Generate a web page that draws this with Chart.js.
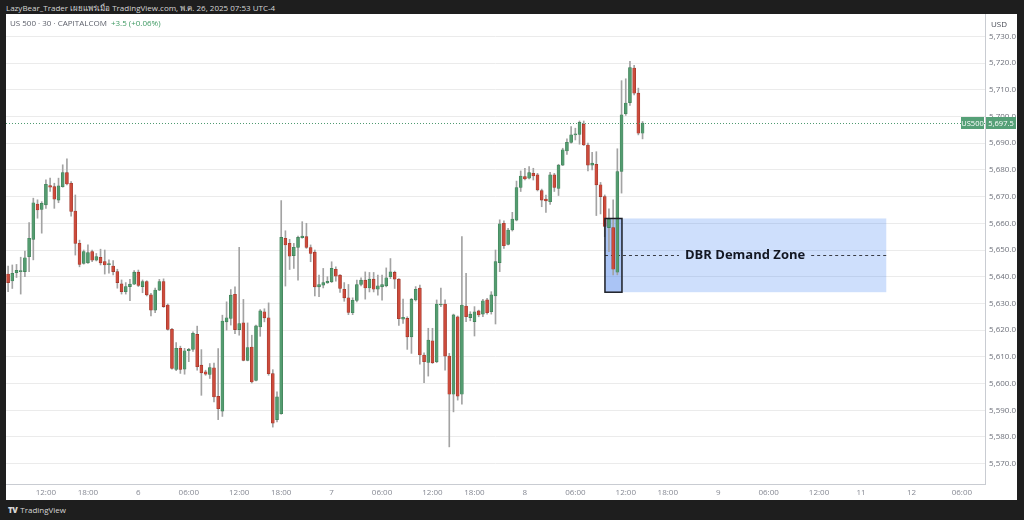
<!DOCTYPE html>
<html>
<head>
<meta charset="utf-8">
<script src="https://cdn.jsdelivr.net/npm/chart.js@4.4.1/dist/chart.umd.min.js"></script>
<style>
  html,body{margin:0;padding:0;}
  body{width:1024px;height:520px;overflow:hidden;background:#1e1e1e;position:relative;font-family:'Open Sans','Noto Sans',sans-serif;}
  #hdr{position:absolute;left:6px;top:2px;color:#d6d6d6;font-size:8px;line-height:12px;white-space:nowrap;}
  #panel{position:absolute;left:6px;top:14px;width:1011px;height:486px;background:#fff;}
  #c{position:absolute;left:0;top:0;}
  #legend{position:absolute;left:10px;top:17px;font-size:8px;line-height:12px;color:#5d606b;white-space:nowrap;}
  #legend .chg{color:#3f9a63;margin-left:4px;}
  #usd{position:absolute;left:991px;top:18px;font-size:8px;line-height:12px;color:#4a4d57;}
  #foot{position:absolute;left:8px;top:504px;font-size:8px;line-height:12px;color:#d6d6d6;white-space:nowrap;}
  #foot b{font-weight:800;letter-spacing:-0.5px;margin-right:3px;}
</style>
</head>
<body>
<div id="hdr">LazyBear_Trader เผยแพร่เมื่อ TradingView.com, พ.ค. 26, 2025 07:53 UTC-4</div>
<div id="panel"><canvas id="c" width="1011" height="486"></canvas></div>
<div id="legend">US 500 · 30 · CAPITALCOM<span class="chg">+3.5 (+0.06%)</span></div>
<div id="usd">USD</div>
<div id="foot"><b>TV</b>TradingView</div>
<script>
// ---- data (30-minute candles) ----
const openVals = [5641.0,5638.4,5641.5,5641.9,5641.9,5647.5,5654.0,5667.2,5665.2,5666.9,
5674.1,5673.7,5668.7,5673.7,5679.0,5675.0,5664.6,5652.5,5645.0,5645.2,
5649.4,5646.2,5647.3,5645.7,5644.5,5644.0,5641.9,5637.3,5634.4,5636.3,
5637.2,5641.7,5636.3,5638.2,5633.2,5627.5,5635.0,5638.2,5629.4,5620.3,
5605.3,5613.2,5605.4,5612.3,5612.8,5618.4,5606.9,5604.4,5603.4,5605.9,
5595.2,5589.7,5623.1,5624.4,5633.4,5620.2,5622.7,5608.7,5613.7,5601.2,
5621.2,5626.9,5624.6,5603.7,5586.5,5588.7,5654.4,5652.5,5647.9,5651.0,
5654.6,5655.0,5650.9,5649.2,5636.2,5636.8,5637.7,5638.1,5642.8,5640.6,
5635.3,5632.1,5626.5,5631.1,5637.1,5638.7,5635.8,5639.1,5635.3,5636.2,
5636.6,5640.0,5641.6,5639.1,5624.1,5624.4,5617.5,5631.3,5635.7,5610.7,
5607.9,5616.0,5608.2,5629.4,5629.8,5610.3,5596.0,5625.0,5596.0,5629.0,
5624.7,5623.2,5627.2,5626.0,5631.3,5626.9,5632.8,5645.3,5660.0,5652.1,
5657.5,5661.2,5673.4,5677.5,5676.9,5678.7,5678.1,5672.2,5669.1,5668.1,
5678.1,5673.1,5681.8,5687.1,5690.3,5693.1,5693.3,5697.1,5689.3,5681.8,
5682.1,5674.4,5670.0,5658.4,5658.4,5641.7,5679.4,5701.0,5705.2,5718.1,
5708.7,5693.7];
const highVals = [5644.0,5644.4,5644.6,5647.3,5649.6,5660.3,5669.4,5668.8,5668.1,5676.3,
5676.9,5675.0,5676.9,5681.9,5684.1,5675.6,5670.6,5653.7,5650.0,5651.9,
5650.0,5648.7,5650.3,5650.0,5646.3,5646.0,5642.8,5638.8,5637.8,5639.0,
5642.3,5642.5,5638.8,5638.5,5633.8,5635.7,5639.0,5639.2,5629.8,5620.7,
5615.3,5614.0,5613.2,5613.2,5619.4,5621.5,5612.7,5605.0,5607.5,5607.7,
5613.1,5625.6,5630.6,5635.2,5636.2,5651.0,5631.5,5622.7,5618.1,5621.9,
5627.7,5628.0,5630.2,5605.2,5596.9,5668.5,5657.2,5654.0,5652.5,5655.2,
5660.6,5660.0,5651.9,5650.0,5640.6,5643.1,5640.0,5645.6,5643.7,5640.8,
5637.8,5637.1,5632.1,5638.7,5639.6,5641.8,5641.6,5641.6,5640.6,5640.6,
5643.3,5646.8,5642.1,5639.3,5631.6,5625.0,5631.9,5636.3,5636.9,5611.5,
5620.7,5620.7,5631.3,5635.7,5631.3,5611.3,5626.0,5625.3,5655.0,5641.3,
5626.9,5628.8,5627.5,5631.5,5631.9,5634.4,5650.0,5661.3,5660.9,5658.1,
5664.1,5675.8,5679.6,5680.6,5681.2,5680.6,5678.7,5672.8,5670.6,5679.1,
5678.7,5682.1,5688.1,5691.6,5696.2,5695.6,5698.3,5698.3,5690.0,5686.6,
5686.8,5675.3,5670.6,5665.4,5668.8,5687.9,5713.4,5714.1,5720.6,5719.1,
5710.6,5698.1];
const lowVals = [5634.4,5635.6,5639.7,5633.5,5640.0,5641.9,5646.3,5661.9,5656.3,5665.6,
5671.9,5665.6,5667.7,5673.5,5674.4,5662.7,5648.1,5643.7,5644.7,5645.0,
5645.6,5645.9,5644.4,5641.0,5641.3,5640.7,5635.7,5633.5,5633.5,5631.0,
5637.0,5636.3,5634.0,5632.8,5625.3,5626.5,5634.8,5628.5,5620.0,5605.4,
5604.8,5603.8,5603.5,5608.2,5612.0,5605.0,5595.6,5603.1,5601.9,5593.1,
5586.5,5587.7,5620.0,5621.9,5618.7,5618.1,5608.5,5608.5,5600.2,5601.0,
5617.7,5623.1,5603.1,5583.7,5585.6,5588.5,5636.5,5642.7,5643.1,5638.7,
5654.4,5650.6,5645.6,5632.8,5632.5,5635.8,5637.5,5637.8,5638.3,5634.1,
5630.8,5625.8,5625.8,5630.6,5636.6,5631.6,5634.3,5634.3,5633.1,5631.2,
5636.2,5639.3,5635.6,5621.8,5622.5,5612.8,5611.3,5630.9,5607.3,5600.3,
5602.8,5607.5,5607.8,5628.8,5605.0,5576.3,5589.4,5593.8,5592.3,5623.2,
5623.5,5617.8,5625.0,5625.0,5626.0,5626.0,5622.3,5641.9,5650.6,5651.9,
5657.1,5660.9,5671.9,5676.2,5676.6,5676.2,5672.1,5666.2,5664.1,5667.1,
5671.9,5670.4,5681.6,5685.8,5690.0,5691.2,5689.6,5689.1,5679.6,5680.0,
5662.9,5663.5,5655.0,5649.4,5640.7,5640.7,5671.3,5700.4,5704.1,5708.1,
5693.1,5691.6];
const closeVals = [5637.8,5641.3,5642.4,5642.3,5647.1,5654.4,5667.7,5665.0,5667.5,5674.6,
5673.5,5669.0,5674.0,5679.0,5674.7,5664.4,5652.5,5644.6,5649.4,5649.0,
5646.2,5647.5,5645.2,5644.4,5644.7,5641.9,5637.8,5634.4,5636.3,5637.2,
5641.7,5636.7,5638.2,5633.2,5627.5,5635.0,5638.2,5628.8,5620.3,5605.7,
5613.2,5605.3,5612.3,5612.8,5618.8,5606.3,5604.0,5603.5,5606.0,5595.0,
5590.6,5623.4,5624.6,5633.1,5620.2,5622.5,5608.7,5613.5,5600.6,5621.6,
5627.2,5624.6,5603.7,5585.2,5595.0,5654.7,5651.9,5647.7,5651.0,5654.7,
5655.2,5651.0,5648.7,5636.2,5637.1,5637.8,5638.3,5643.1,5640.2,5635.6,
5632.1,5626.6,5631.2,5637.1,5638.7,5635.8,5639.1,5635.3,5636.6,5637.1,
5639.6,5641.8,5639.1,5624.3,5624.8,5617.5,5631.5,5635.3,5610.7,5608.2,
5616.3,5607.8,5629.8,5629.8,5610.3,5596.0,5625.7,5595.3,5629.4,5625.0,
5626.0,5626.9,5625.7,5631.0,5626.5,5633.2,5645.7,5659.8,5651.6,5657.5,
5661.6,5673.4,5677.7,5676.6,5679.0,5677.7,5672.5,5668.7,5668.4,5678.1,
5673.4,5681.8,5687.5,5690.3,5693.1,5693.5,5697.8,5689.3,5681.8,5682.5,
5674.4,5670.0,5658.8,5661.6,5642.8,5679.4,5700.6,5705.0,5718.3,5708.7,
5693.7,5697.5];

// time axis: slot count and labelled slots
const slotCount = 233;
const timeTickIdx  = [9,19,31,43,55,65,77,89,101,111,123,135,147,157,169,181,193,203,215,227];
const timeTickText = ['12:00','18:00','6','06:00','12:00','18:00','7','06:00','12:00','18:00','8','06:00','12:00','18:00','9','06:00','12:00','11','12','06:00'];
const priceTicks = [5570,5580,5590,5600,5610,5620,5630,5640,5650,5660,5670,5680,5690,5700,5710,5720,5730];
const lastPrice = 5697.5;
const symbolName = 'US500';

// demand zone (slot positions and prices)
const zoneStart = 142.05, boxEnd = 146.1, zoneEnd = 209.0;
const zoneTop = 5661.8, zoneBottom = 5634.2, zoneMid = 5648.2;
const zoneText = 'DBR Demand Zone';
const zoneTextAt = 175.4;

// ---- build ----
const slotLabels = Array.from({length: slotCount}, () => '');
timeTickIdx.forEach((k, j) => { slotLabels[k] = timeTickText[j]; });
const bodies = openVals.map((o, i) => [o, closeVals[i]]);
const wicks = lowVals.map((l, i) => [l, highVals[i]]);
const isUp = i => closeVals[i] >= openVals[i];

const GREEN = '#549c70', GREEN_B = '#3d7d55';
const RED = '#cc4b3c', RED_B = '#9b3428';
const fmt = v => v.toLocaleString('en-US', {minimumFractionDigits: 1, maximumFractionDigits: 1});

const zonePlugin = {
  id: 'zone',
  beforeDatasetsDraw(chart) {
    const {ctx, scales: {x, y}} = chart;
    const x0 = x.getPixelForValue(zoneStart), x1 = x.getPixelForValue(zoneEnd), xb = x.getPixelForValue(boxEnd);
    const yt = y.getPixelForValue(zoneTop), yb = y.getPixelForValue(zoneBottom), ym = Math.round(y.getPixelForValue(zoneMid)) + 0.5;
    ctx.save();
    ctx.fillStyle = 'rgba(66,133,244,0.26)';
    ctx.fillRect(x0, yt, x1 - x0, yb - yt);
    ctx.fillStyle = 'rgba(40,100,220,0.22)';
    ctx.fillRect(x0, yt, xb - x0, yb - yt);
    ctx.font = 'bold 13px "Open Sans", "DejaVu Sans", sans-serif';
    const tx = x.getPixelForValue(zoneTextAt);
    const tw = ctx.measureText(zoneText).width;
    ctx.strokeStyle = '#3a3d45';
    ctx.lineWidth = 1;
    ctx.setLineDash([3, 3]);
    ctx.beginPath();
    ctx.moveTo(x0, ym); ctx.lineTo(tx - tw / 2 - 6, ym);
    ctx.moveTo(tx + tw / 2 + 6, ym); ctx.lineTo(x1, ym);
    ctx.stroke();
    ctx.setLineDash([]);
    ctx.fillStyle = '#131722';
    ctx.textAlign = 'center';
    ctx.textBaseline = 'middle';
    ctx.fillText(zoneText, tx, ym);
    ctx.restore();
  },
  afterDatasetsDraw(chart) {
    const {ctx, scales: {x, y}} = chart;
    const x0 = x.getPixelForValue(zoneStart), xb = x.getPixelForValue(boxEnd);
    const yt = y.getPixelForValue(zoneTop), yb = y.getPixelForValue(zoneBottom);
    ctx.save();
    ctx.strokeStyle = '#1c1f26';
    ctx.lineWidth = 1.5;
    ctx.strokeRect(x0, yt, xb - x0, yb - yt);
    ctx.restore();
  }
};

const lastPricePlugin = {
  id: 'lastPrice',
  afterDatasetsDraw(chart) {
    const {ctx, chartArea: a, scales: {y}} = chart;
    const yp = Math.round(y.getPixelForValue(lastPrice)) + 0.5;
    ctx.save();
    ctx.strokeStyle = '#4f9a70';
    ctx.lineWidth = 1;
    ctx.setLineDash([1, 2]);
    ctx.beginPath(); ctx.moveTo(a.left, yp); ctx.lineTo(a.right, yp); ctx.stroke();
    ctx.setLineDash([]);
    ctx.restore();
  },
  afterDraw(chart) {
    const {ctx, chartArea: a, scales: {y}} = chart;
    const yp = Math.round(y.getPixelForValue(lastPrice));
    ctx.save();
    ctx.fillStyle = '#55a077';
    ctx.fillRect(a.right - 24, yp - 6, 23, 12);
    ctx.fillRect(a.right + 1, yp - 6, 30, 12);
    ctx.fillStyle = '#ffffff';
    ctx.font = '7.5px "Open Sans", sans-serif';
    ctx.textBaseline = 'middle';
    ctx.textAlign = 'center';
    ctx.fillText(symbolName, a.right - 12.5, yp + 0.5);
    ctx.fillText(fmt(lastPrice), a.right + 16, yp + 0.5);
    ctx.restore();
  }
};

new Chart(document.getElementById('c'), {
  type: 'bar',
  data: {
    labels: slotLabels,
    datasets: [
      {
        label: 'body', data: bodies, order: 0, grouped: false,
        barThickness: 3, minBarLength: 1,
        backgroundColor: c => isUp(c.dataIndex) ? GREEN : RED,
        borderColor: c => isUp(c.dataIndex) ? GREEN_B : RED_B,
        borderWidth: 0.6, borderSkipped: false
      },
      {
        label: 'wick', data: wicks, order: 1, grouped: false,
        barThickness: 1, backgroundColor: '#a3a3a3', borderWidth: 0
      }
    ]
  },
  options: {
    responsive: false, animation: false,
    layout: {padding: 0},
    plugins: {legend: {display: false}, tooltip: {enabled: false}},
    scales: {
      x: {
        type: 'category', offset: true,
        grid: {display: false, drawTicks: false},
        border: {display: true, color: '#c9ccd2', width: 1},
        ticks: {autoSkip: false, maxRotation: 0, minRotation: 0, padding: 4, color: '#868993',
                font: {size: 8, family: '"Open Sans", sans-serif'},
                callback: (v, i) => slotLabels[i]},
        afterFit: s => { s.height = 16; s.paddingLeft = 0; s.paddingRight = 0; }
      },
      y: {
        position: 'right', min: 5562.4, max: 5738.35,
        grid: {color: '#ebebeb', drawTicks: false, lineWidth: 1},
        border: {display: true, color: '#c9ccd2', width: 1},
        ticks: {padding: 4, color: '#6f727c', font: {size: 8, family: '"Open Sans", sans-serif'},
                callback: v => fmt(v)},
        afterBuildTicks: s => { s.ticks = priceTicks.map(v => ({value: v})); },
        afterFit: s => { s.width = 32; s.paddingTop = 0; s.paddingBottom = 0; }
      }
    }
  },
  plugins: [zonePlugin, lastPricePlugin]
});
</script>
</body>
</html>
